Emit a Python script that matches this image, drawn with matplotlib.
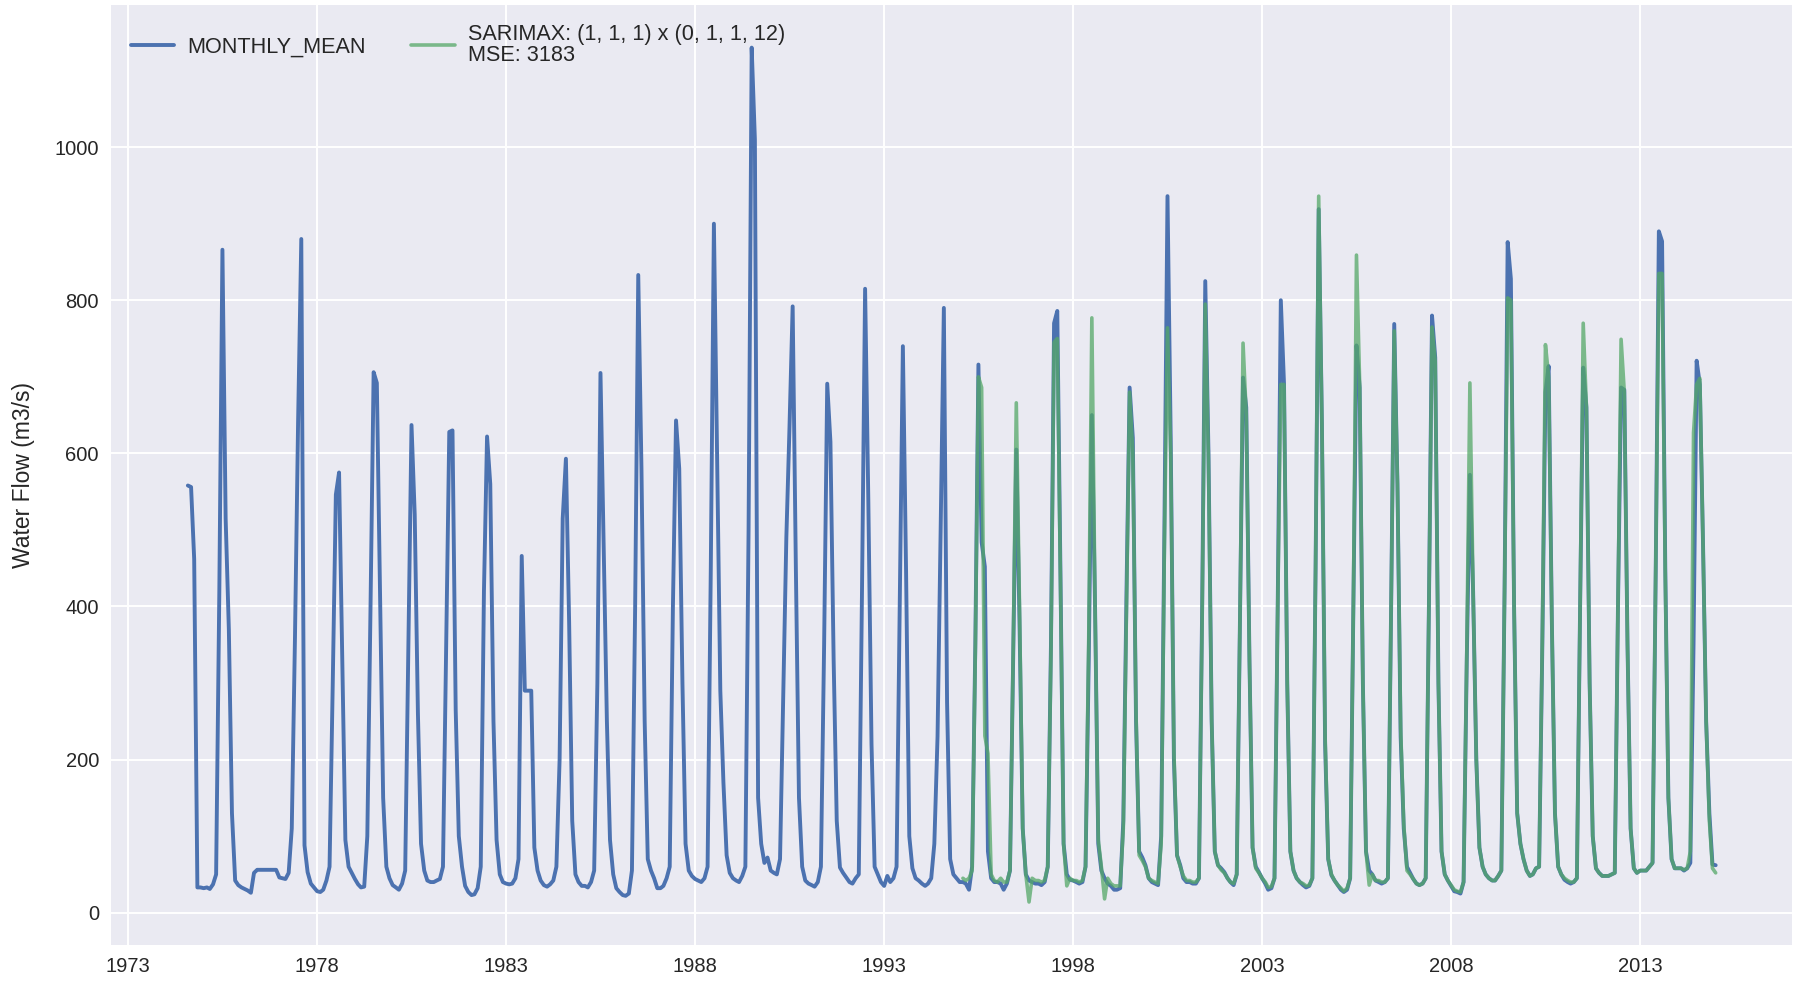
import matplotlib
matplotlib.use("Agg")
import matplotlib.pyplot as plt
import matplotlib.dates as mdates
import pandas as pd
import datetime as dt

# ---------------- data (monthly means, m3/s) ----------------
mean_start = "1974-07"
mean_1974 = [558, 556, 462, 33, 33, 32]
mean_1975_1979 = [
    33, 31, 37, 50, 420, 866, 515, 370, 130, 42, 36, 33,
    31, 29, 26, 52, 56, 56, 56, 56, 56, 56, 56, 46,
    45, 44, 52, 110, 360, 640, 880, 88, 53, 38, 33, 28,
    27, 30, 42, 60, 300, 546, 575, 330, 95, 60, 52, 44,
    37, 33, 34, 100, 400, 706, 692, 420, 150, 60, 45, 36,
]
mean_1980_1989 = [
    33, 30, 38, 55, 350, 637, 520, 260, 90, 55, 42, 40,
    40, 42, 44, 60, 350, 628, 630, 265, 100, 60, 35, 27,
    23, 24, 32, 60, 420, 622, 560, 250, 95, 50, 40, 38,
    37, 38, 45, 70, 466, 290, 290, 290, 85, 55, 42, 36,
    34, 37, 42, 60, 200, 515, 593, 380, 120, 50, 40, 35,
    35, 33, 40, 55, 300, 705, 480, 250, 95, 50, 32, 27,
    23, 22, 25, 55, 400, 833, 580, 250, 70, 55, 45, 32,
    32, 35, 45, 60, 400, 643, 580, 300, 90, 55, 48, 44,
    42, 40, 45, 60, 450, 900, 600, 290, 170, 75, 52, 45,
    42, 40, 48, 60, 500, 1130, 1010, 150, 90, 65, 72, 55,
]
mean_1990_1999 = [
    52, 50, 70, 280, 490, 632, 792, 450, 150, 60, 42, 38,
    36, 34, 40, 60, 350, 691, 615, 330, 120, 59, 52, 46,
    40, 38, 45, 50, 420, 815, 540, 220, 60, 50, 40, 35,
    48, 40, 45, 60, 400, 740, 445, 100, 58, 45, 42, 38,
    35, 38, 45, 90, 230, 500, 790, 275, 70, 50, 45, 40,
    40, 38, 30, 60, 350, 716, 484, 452, 80, 45, 40, 40,
    38, 30, 38, 55, 330, 605, 380, 110, 50, 42, 40, 38,
    38, 36, 40, 60, 350, 770, 786, 440, 90, 50, 43, 42,
    40, 38, 40, 60, 330, 650, 400, 90, 55, 45, 38, 35,
    30, 30, 32, 120, 420, 686, 620, 250, 80, 72, 62, 45,
]
mean_2000_2009 = [
    40, 38, 36, 100, 500, 936, 620, 200, 75, 62, 45, 40,
    40, 38, 38, 45, 400, 825, 600, 250, 80, 62, 58, 53,
    45, 40, 36, 50, 380, 699, 660, 330, 85, 60, 53, 45,
    38, 30, 32, 45, 400, 800, 690, 300, 80, 55, 45, 40,
    36, 33, 35, 45, 450, 919, 640, 220, 70, 49, 42, 36,
    30, 27, 30, 45, 400, 741, 686, 300, 80, 55, 50, 42,
    40, 38, 40, 45, 400, 769, 560, 230, 110, 60, 52, 44,
    38, 36, 38, 45, 400, 780, 725, 300, 80, 50, 42, 35,
    28, 27, 25, 40, 330, 572, 420, 200, 85, 60, 50, 45,
    42, 42, 48, 55, 420, 876, 828, 400, 130, 90, 70, 55,
]
mean_2010_2014 = [
    48, 50, 58, 60, 350, 680, 714, 380, 130, 60, 50, 43,
    40, 38, 40, 45, 400, 712, 660, 300, 100, 58, 52, 48,
    48, 48, 50, 52, 400, 686, 683, 350, 110, 58, 52, 55,
    55, 55, 60, 65, 450, 890, 877, 450, 150, 70, 58, 58,
    58, 55, 58, 65, 350, 721, 690, 480, 250, 130, 63, 62,
]

# SARIMAX fitted values
sarimax_start = "1995-01"
sarimax_1995_1999 = [
    45, 42, 45, 55, 340, 700, 686, 231, 208, 50, 42, 40,
    45, 40, 40, 55, 340, 666, 400, 110, 50, 14, 45, 42,
    42, 40, 42, 60, 340, 745, 750, 430, 90, 35, 45, 42,
    42, 40, 42, 60, 360, 777, 400, 95, 60, 18, 45, 38,
    35, 35, 35, 110, 400, 680, 600, 260, 75, 68, 60, 45,
]
sarimax_2000_2009 = [
    42, 40, 38, 90, 480, 764, 600, 210, 75, 60, 48, 42,
    42, 40, 40, 45, 390, 795, 590, 250, 80, 62, 56, 52,
    45, 40, 38, 50, 380, 744, 650, 330, 85, 58, 52, 45,
    40, 33, 34, 45, 400, 690, 690, 300, 80, 55, 45, 40,
    38, 35, 36, 45, 450, 936, 640, 230, 70, 50, 42, 36,
    32, 28, 32, 45, 400, 859, 690, 300, 80, 36, 50, 42,
    42, 40, 40, 45, 400, 760, 560, 240, 115, 55, 50, 44,
    38, 36, 38, 45, 400, 765, 720, 300, 80, 50, 42, 36,
    30, 28, 27, 40, 340, 692, 420, 200, 85, 60, 50, 45,
    42, 42, 48, 55, 420, 803, 800, 400, 130, 90, 70, 55,
]
sarimax_2010_2014 = [
    48, 50, 58, 60, 360, 742, 700, 380, 130, 60, 50, 45,
    42, 40, 40, 45, 400, 770, 660, 300, 100, 58, 52, 48,
    48, 48, 50, 52, 400, 749, 680, 350, 110, 58, 52, 55,
    55, 55, 60, 65, 450, 835, 835, 440, 150, 70, 58, 58,
    58, 56, 58, 80, 627, 690, 698, 480, 250, 120, 58, 52,
]

mean_label = "MONTHLY_MEAN"
sarimax_label = "SARIMAX: (1, 1, 1) x (0, 1, 1, 12)\nMSE: 3183"
y_label = "Water Flow (m3/s)"
tick_years = [1973, 1978, 1983, 1988, 1993, 1998, 2003, 2008, 2013]

# ---------------- build series ----------------
mean_vals = mean_1974 + mean_1975_1979 + mean_1980_1989 + mean_1990_1999 + mean_2000_2009 + mean_2010_2014
sarimax_vals = sarimax_1995_1999 + sarimax_2000_2009 + sarimax_2010_2014
mean_dates = pd.period_range(mean_start, periods=len(mean_vals), freq="M").to_timestamp(how="end").normalize()
sarimax_dates = pd.period_range(sarimax_start, periods=len(sarimax_vals), freq="M").to_timestamp(how="end").normalize()

# ---------------- plot ----------------
plt.style.use("seaborn-v0_8")
plt.rcParams["font.family"] = ["Liberation Sans", "DejaVu Sans"]

fig = plt.figure(figsize=(17.98, 9.82), dpi=100)
ax = fig.add_axes([0.062, 0.038, 0.9347, 0.957])
ax.set_facecolor("#EAEAF2")

ax.plot(mean_dates, mean_vals, color="#4C72B0", lw=2.8, label=mean_label)
ax.plot(sarimax_dates, sarimax_vals, color="#55A868", lw=2.6, alpha=0.75, label=sarimax_label)

ax.set_xticks([mdates.date2num(dt.datetime(y, 1, 1)) for y in tick_years])
ax.xaxis.set_major_formatter(mdates.DateFormatter("%Y"))
ax.set_yticks([0, 200, 400, 600, 800, 1000])
ax.tick_params(labelsize=14.5, colors="#262626", length=0, pad=9)
ax.set_ylabel(y_label, fontsize=16.5, color="#262626", labelpad=14)
ax.grid(True, color="white", lw=1.4)
for s in ax.spines.values():
    s.set_visible(False)

leg = ax.legend(loc="upper left", ncol=2, frameon=False, fontsize=15.6,
                handlelength=2.0, handletextpad=0.6, columnspacing=2.1)
for t in leg.get_texts():
    t.set_linespacing(0.95)

fig.savefig("out.png", dpi=100, facecolor="white")
